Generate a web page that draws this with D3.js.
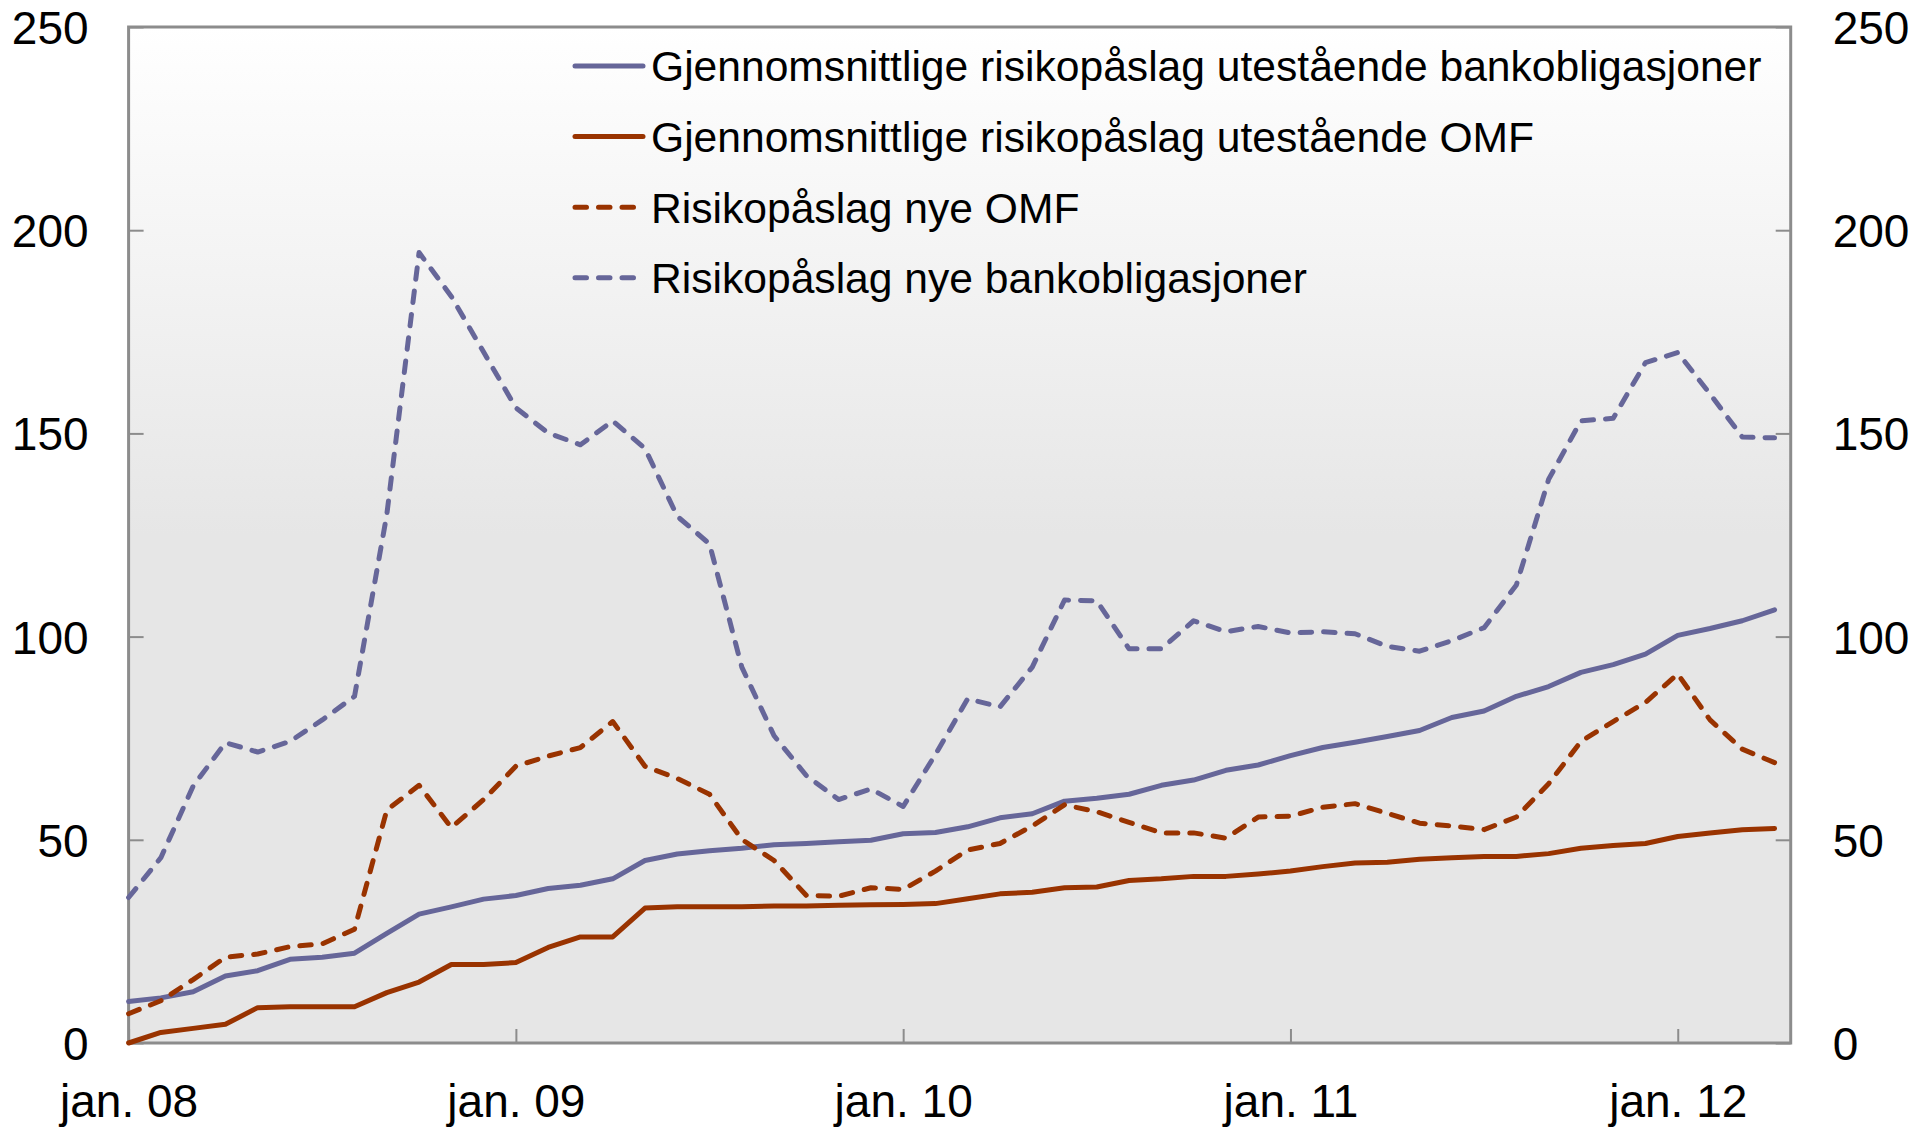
<!DOCTYPE html>
<html>
<head>
<meta charset="utf-8">
<script src="https://cdn.jsdelivr.net/npm/d3@7/dist/d3.min.js"></script>
<style>
    body { margin: 0; background: #fff; }
    svg text { font-family: "Liberation Sans", Arial, sans-serif; fill: #000; }
</style>
</head>
<body>
<div id="chart"></div>
<script>
// monthly observations, jan. 08 - apr. 12
const avgBank = [10.2, 11.1, 12.6, 16.5, 17.8, 20.6, 21.1, 22.1, 27.0, 31.7, 33.5, 35.4, 36.3,
    38.0, 38.8, 40.4, 44.9, 46.5, 47.3, 47.9, 48.8, 49.1, 49.5, 49.9, 51.5, 51.8, 53.2,
    55.4, 56.4, 59.5, 60.2, 61.2, 63.4, 64.7, 67.1, 68.4, 70.7, 72.7, 74.0, 75.4, 76.9,
    80.1, 81.7, 85.3, 87.7, 91.2, 93.1, 95.7, 100.3, 102.0, 103.9, 106.6];
const avgOmf = [0, 2.6, 3.6, 4.6, 8.7, 8.9, 8.9, 8.9, 12.4, 15.0, 19.3, 19.3, 19.8,
    23.5, 26.1, 26.1, 33.2, 33.5, 33.5, 33.5, 33.7, 33.7, 33.9, 34.0, 34.1, 34.3, 35.5,
    36.7, 37.1, 38.2, 38.4, 40.0, 40.4, 41.0, 41.0, 41.6, 42.3, 43.4, 44.3, 44.5, 45.2,
    45.6, 45.9, 45.9, 46.6, 47.9, 48.6, 49.1, 50.8, 51.7, 52.5, 52.8];
const newOmf = [7.2, 10.4, 15.6, 21.1, 21.9, 23.7, 24.4, 28.0, 57.3, 63.4, 53.0, 59.9, 68.1,
    70.6, 72.7, 79.1, 68.1, 65.1, 61.2, 50.1, 44.9, 36.3, 36.1, 38.2, 37.8, 42.3, 47.5,
    49.1, 53.4, 58.6, 56.9, 54.3, 51.7, 51.7, 50.4, 55.6, 55.8, 58.0, 58.9, 56.5, 54.1,
    53.4, 52.5, 55.6, 63.8, 74.2, 79.1, 83.8, 90.8, 79.5, 72.3, 69.0];
const newBank = [35.8, 45.6, 63.2, 73.9, 71.6, 74.2, 79.5, 85.3, 130.0, 194.5, 183.7, 170.0, 156.3,
    150.1, 147.2, 153.1, 146.3, 129.6, 122.8, 92.5, 75.6, 65.8, 59.9, 62.5, 58.2, 71.0, 84.7,
    82.7, 92.5, 109.0, 108.8, 97.0, 97.0, 103.9, 101.2, 102.5, 100.9, 101.2, 100.7, 97.6, 96.4,
    99.0, 102.2, 112.7, 138.7, 153.1, 153.7, 167.4, 169.9, 159.7, 149.1, 148.9];

const seriesNames = [
    'Gjennomsnittlige risikopåslag utestående bankobligasjoner',
    'Gjennomsnittlige risikopåslag utestående OMF',
    'Risikopåslag nye OMF',
    'Risikopåslag nye bankobligasjoner'
];
const xTickMonths = [0, 12, 24, 36, 48];
const xTickLabels = ['jan. 08', 'jan. 09', 'jan. 10', 'jan. 11', 'jan. 12'];
const yTicks = [0, 50, 100, 150, 200, 250];

(function() {
    let width = 1920, height = 1127;
    let left = 128.6, right = 1790.7, top = 27, bottom = 1043;
    let blue = '#666699', red = '#993300', frame = '#8c8c8c';
    let dash = '11.5,12';

    let series = [
        { name: seriesNames[0], values: avgBank, color: blue, dash: null },
        { name: seriesNames[1], values: avgOmf, color: red, dash: null },
        { name: seriesNames[2], values: newOmf, color: red, dash: dash },
        { name: seriesNames[3], values: newBank, color: blue, dash: dash }
    ];

    let svg = d3.select('#chart')
        .append('svg')
        .attr('width', width)
        .attr('height', height);

    let x = d3.scaleLinear().domain([0, 51.5]).range([left, right]);
    let y = d3.scaleLinear().domain([0, 250]).range([bottom, top]);

    let grad = svg.append('defs')
        .append('linearGradient')
        .attr('id', 'bg')
        .attr('x1', 0).attr('y1', 0)
        .attr('x2', 0).attr('y2', 1);
    grad.append('stop').attr('offset', '0%').attr('stop-color', '#ffffff');
    grad.append('stop').attr('offset', '50%').attr('stop-color', '#e6e6e6');
    grad.append('stop').attr('offset', '100%').attr('stop-color', '#e6e6e6');

    svg.append('rect')
        .attr('x', left)
        .attr('y', top)
        .attr('width', right - left)
        .attr('height', bottom - top)
        .style('fill', 'url(#bg)');

    // axes: ticks point inward
    let yLeft = d3.axisLeft(y).tickValues(yTicks).tickSize(-15).tickPadding(40);
    let yRight = d3.axisRight(y).tickValues(yTicks).tickSize(-15).tickPadding(42);
    let xAxis = d3.axisBottom(x)
        .tickValues(xTickMonths)
        .tickFormat((d, i) => xTickLabels[i])
        .tickSize(-14)
        .tickPadding(74);

    let gl = svg.append('g').attr('transform', `translate(${left},0)`).call(yLeft);
    let gr = svg.append('g').attr('transform', `translate(${right},0)`).call(yRight);
    let gx = svg.append('g').attr('transform', `translate(0,${bottom})`).call(xAxis);

    [gl, gr, gx].forEach(g => {
        g.select('.domain').remove();
        g.selectAll('.tick line')
            .attr('stroke', frame)
            .attr('stroke-width', 2);
        g.selectAll('.tick text')
            .style('font-size', '46px');
    });
    gl.selectAll('.tick text').attr('dy', '0.36em');
    gr.selectAll('.tick text').attr('dy', '0.36em');
    gx.selectAll('.tick text').attr('dy', '0');

    svg.append('rect')
        .attr('x', left)
        .attr('y', top)
        .attr('width', right - left)
        .attr('height', bottom - top)
        .style('fill', 'none')
        .style('stroke', frame)
        .style('stroke-width', 3);

    let line = d3.line()
        .x((d, i) => x(i))
        .y(d => y(d));

    svg.selectAll('.series')
        .data(series)
        .enter()
        .append('path')
        .attr('class', 'series')
        .attr('d', d => line(d.values))
        .style('fill', 'none')
        .style('stroke', d => d.color)
        .style('stroke-width', 5)
        .style('stroke-linejoin', 'round')
        .style('stroke-linecap', 'round')
        .style('stroke-dasharray', d => d.dash);

    let legend = svg.selectAll('.legend')
        .data(series)
        .enter()
        .append('g')
        .attr('class', 'legend')
        .attr('transform', (d, i) => `translate(575,${66 + i * 70.6})`);

    legend.append('line')
        .attr('x1', 0)
        .attr('x2', 68)
        .style('stroke', d => d.color)
        .style('stroke-width', 5)
        .style('stroke-linecap', 'round')
        .style('stroke-dasharray', d => d.dash);

    legend.append('text')
        .attr('x', 76)
        .attr('dy', '0.36em')
        .style('font-size', '42.6px')
        .text(d => d.name);
})();
</script>
</body>
</html>
